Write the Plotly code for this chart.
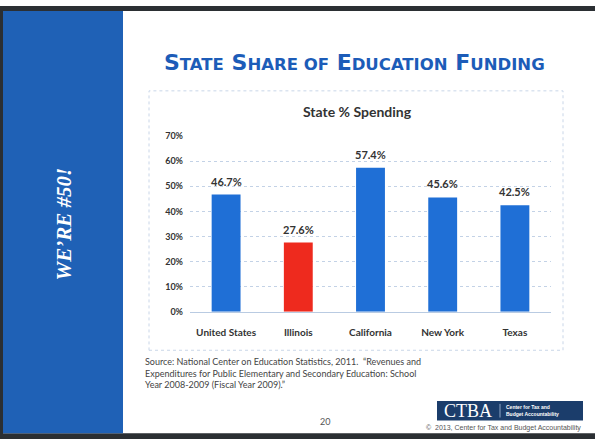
import plotly.graph_objects as go

W, H = 595, 444

categories = ["United States", "Illinois", "California", "New York", "Texas"]
values = [46.7, 27.6, 57.4, 45.6, 42.5]
bar_colors = ["#1f6fd6", "#ee2a1e", "#1f6fd6", "#1f6fd6", "#1f6fd6"]
y_ticks = [0, 10, 20, 30, 40, 50, 60, 70]
y_tick_labels = ["0%", "10%", "20%", "30%", "40%", "50%", "60%", "70%"]


def px(x):
    return x / W


def py(y):
    return 1 - y / H


fig = go.Figure()
fig.add_trace(go.Bar(
    x=categories,
    y=values,
    marker=dict(color=bar_colors, line=dict(width=0)),
    hoverinfo="skip",
))

shapes = []
# top / bottom dark frame
shapes.append(dict(type="rect", xref="paper", yref="paper", x0=0, x1=1, y0=py(5), y1=1,
                   fillcolor="#2b2f33", line=dict(width=0), layer="below"))
shapes.append(dict(type="rect", xref="paper", yref="paper", x0=0, x1=1, y0=0, y1=py(438),
                   fillcolor="#2b2f33", line=dict(width=0), layer="below"))
shapes.append(dict(type="rect", xref="paper", yref="paper", x0=0, x1=px(3), y0=0, y1=1,
                   fillcolor="#2b2f33", line=dict(width=0), layer="below"))
# left blue banner
shapes.append(dict(type="rect", xref="paper", yref="paper", x0=px(3), x1=px(123), y0=py(438), y1=py(5),
                   fillcolor="#1f61b6", line=dict(width=0), layer="below"))
# chart box
shapes.append(dict(type="rect", xref="paper", yref="paper", x0=px(149), x1=px(563), y0=py(353), y1=py(87),
                   fillcolor="rgba(0,0,0,0)", line=dict(width=1, color="#c9d6e8", dash="dot"), layer="below"))
# logo box
shapes.append(dict(type="rect", xref="paper", yref="paper", x0=px(437), x1=px(583), y0=py(425), y1=py(405),
                   fillcolor="#1b3d6b", line=dict(width=0), layer="below"))
shapes.append(dict(type="line", xref="paper", yref="paper", x0=px(500), x1=px(500), y0=py(422), y1=py(408),
                   line=dict(width=1, color="#8fa6c6")))

annotations = []
# value labels above bars (data coordinates)
for cat, v in zip(categories, values):
    annotations.append(dict(text=f"{v:.1f}%", x=cat, y=v, xref="x", yref="y",
                            xanchor="center", yanchor="bottom", yshift=5, showarrow=False,
                            font=dict(family="Lato", size=11, color="#333333", weight="bold")))

title_html = ("S<span style='font-size:16.5px'>TATE</span> "
              "S<span style='font-size:16.5px'>HARE OF</span> "
              "E<span style='font-size:16.5px'>DUCATION</span> "
              "F<span style='font-size:16.5px'>UNDING</span>")
annotations.append(dict(text=title_html, xref="paper", yref="paper", x=px(354), y=py(58),
                        xanchor="center", yanchor="middle", showarrow=False,
                        font=dict(family="DejaVu Sans", size=22, color="#1c5cb8", weight="bold")))
annotations.append(dict(text="State % Spending", xref="paper", yref="paper", x=px(357), y=py(108),
                        xanchor="center", yanchor="middle", showarrow=False,
                        font=dict(family="Lato", size=14, color="#333333", weight="bold")))
annotations.append(dict(text="WE\u2019RE #50!", xref="paper", yref="paper", x=px(64), y=py(224),
                        xanchor="center", yanchor="middle", showarrow=False, textangle=-90,
                        font=dict(family="Liberation Serif", size=21, color="#ffffff",
                                  weight="bold", style="italic")))
source_lines = [
    "Source: National Center on Education Statistics, 2011.  \u201cRevenues and",
    "Expenditures for Public Elementary and Secondary Education: School",
    "Year 2008-2009 (Fiscal Year 2009).\u201d",
]
for i, line in enumerate(source_lines):
    annotations.append(dict(text=line, xref="paper", yref="paper", x=px(143), y=py(365 + 11.7 * i),
                            xanchor="left", yanchor="middle", showarrow=False,
                            font=dict(family="Lato", size=9, color="#444444")))
annotations.append(dict(text="20", xref="paper", yref="paper", x=px(325), y=py(426),
                        xanchor="center", yanchor="middle", showarrow=False,
                        font=dict(family="Lato", size=9, color="#555555")))
annotations.append(dict(text="CTBA", xref="paper", yref="paper", x=px(468), y=py(415),
                        xanchor="center", yanchor="middle", showarrow=False,
                        font=dict(family="Liberation Serif", size=18, color="#ffffff")))
annotations.append(dict(text="Center for Tax and<br>Budget Accountability", xref="paper", yref="paper",
                        x=px(504), y=py(415), xanchor="left", yanchor="middle", showarrow=False,
                        align="left",
                        font=dict(family="Liberation Sans", size=5, color="#ffffff", weight="bold")))
annotations.append(dict(text="\u00a9  2013, Center for Tax and Budget Accountability", xref="paper", yref="paper",
                        x=px(583), y=py(433), xanchor="right", yanchor="middle", showarrow=False,
                        font=dict(family="Liberation Sans", size=7, color="#555555")))

fig.update_layout(
    width=W, height=H,
    margin=dict(l=0, r=0, t=0, b=0),
    paper_bgcolor="#ffffff",
    plot_bgcolor="rgba(0,0,0,0)",
    showlegend=False,
    bargap=0.6,
    shapes=shapes,
    annotations=annotations,
    xaxis=dict(
        domain=[px(190), px(551)],
        showgrid=False,
        showline=True, linecolor="#b9cbe2", linewidth=1,
        ticks="", ticklabelstandoff=11,
        tickfont=dict(family="Lato", size=10, color="#333333", weight="bold"),
        fixedrange=True,
    ),
    yaxis=dict(
        domain=[py(313.5), py(133.5)],
        range=[0, 70],
        tickvals=y_ticks, ticktext=y_tick_labels,
        showgrid=True, gridcolor="#c3d2e6", gridwidth=1, griddash="dot",
        zeroline=False, showline=False,
        ticks="", ticklabelstandoff=6,
        tickfont=dict(family="Lato", size=9, color="#333333", weight="bold"),
        fixedrange=True,
    ),
)

fig.write_html("out.html")
